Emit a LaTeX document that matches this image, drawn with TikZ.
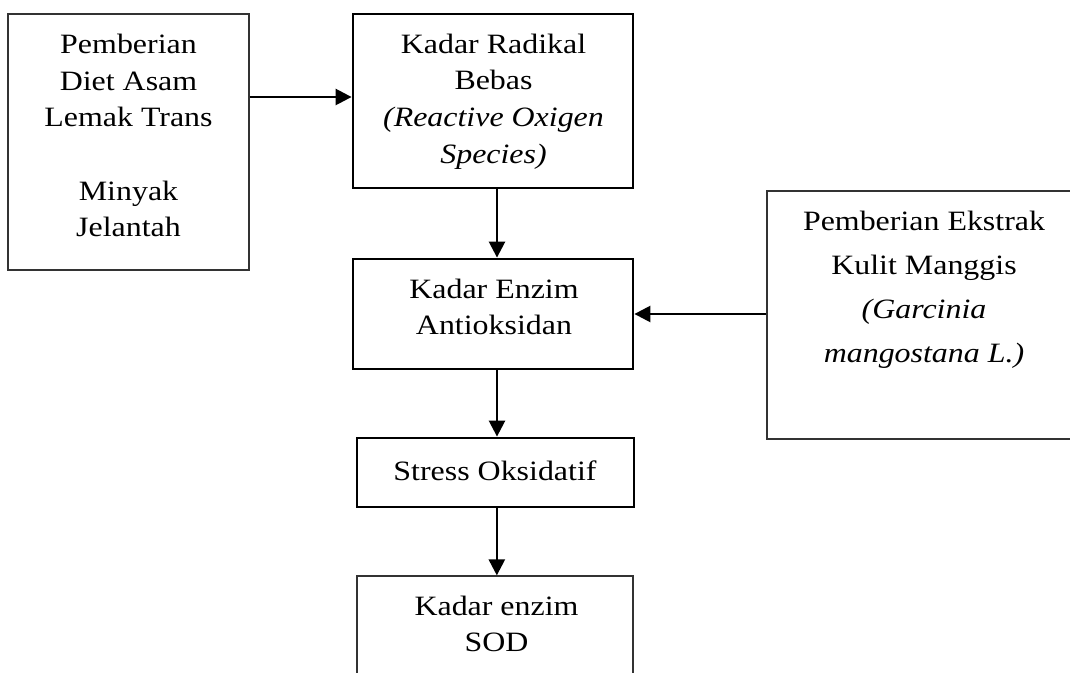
\documentclass[tikz,border=0pt]{standalone}
\usepackage{fontspec}
\setmainfont{Liberation Serif}[FakeStretch=1.14]
\usetikzlibrary{arrows.meta}
\begin{document}
\begin{tikzpicture}[x=0.75pt,y=-0.75pt,
  thinbox/.style={draw=black!80, line width=0.9pt, inner sep=0pt},
  thickbox/.style={draw=black, line width=2.1pt, inner sep=0pt},
  txt/.style={align=center, inner sep=0pt, font=\fontsize{21pt}{27.5pt}\selectfont},
  txtwide/.style={align=center, inner sep=0pt, font=\fontsize{21pt}{33pt}\selectfont},
  arr/.style={draw=black, line width=1.9pt, -{Triangle[length=12pt,width=12pt]}}]
\useasboundingbox (0,0) rectangle (1070,673);
\clip (0,0) rectangle (1070,673);
% boxes
\node[thinbox, minimum width=180.75pt, minimum height=192pt] (L) at (128.5,142) {};
\node[thickbox, minimum width=210pt, minimum height=130.5pt] (R) at (493,101) {};
\node[thickbox, minimum width=210pt, minimum height=82.5pt] (E) at (493,314) {};
\node[thinbox, minimum width=249.75pt, minimum height=186pt] (M) at (933.5,315) {};
\node[thickbox, minimum width=207.75pt, minimum height=51.75pt] (S) at (495.5,472.5) {};
\node[thinbox, minimum width=207pt, minimum height=108pt] (B) at (495,648) {};
% texts
\node[txt] (tL) at (128.5,135.5) {Pemberian\\Diet Asam\\Lemak Trans\\\mbox{}\\Minyak\\Jelantah};
\node[txt] (tR) at (493.5,101.5) {Kadar Radikal\\Bebas\\\textit{(Reactive Oxigen}\\\textit{Species)}};
\node[txt] (tE) at (494,307) {Kadar Enzim\\Antioksidan};
\node[txtwide] (tM) at (924,289.5) {Pemberian Ekstrak\\Kulit Manggis\\\textit{(Garcinia}\\\textit{mangostana L.)}};
\node[txt] (tS) at (495,470.5) {Stress Oksidatif};
\node[txt] (tB) at (496.5,624) {Kadar enzim\\SOD};
% connectors
\coordinate (rin) at ([yshift=3pt]R.west);
\draw[arr] (L.east |- rin) -- (rin);
\coordinate (rout) at ([xshift=3pt]R.south);
\draw[arr] (rout) -- (rout |- E.north);
\draw[arr] (M.west |- E.east) -- (E.east);
\coordinate (eout) at ([xshift=3pt]E.south);
\draw[arr] (eout) -- (eout |- S.north);
\coordinate (sout) at ([xshift=1pt]S.south);
\draw[arr] (sout) -- (sout |- B.north);
\end{tikzpicture}
\end{document}
